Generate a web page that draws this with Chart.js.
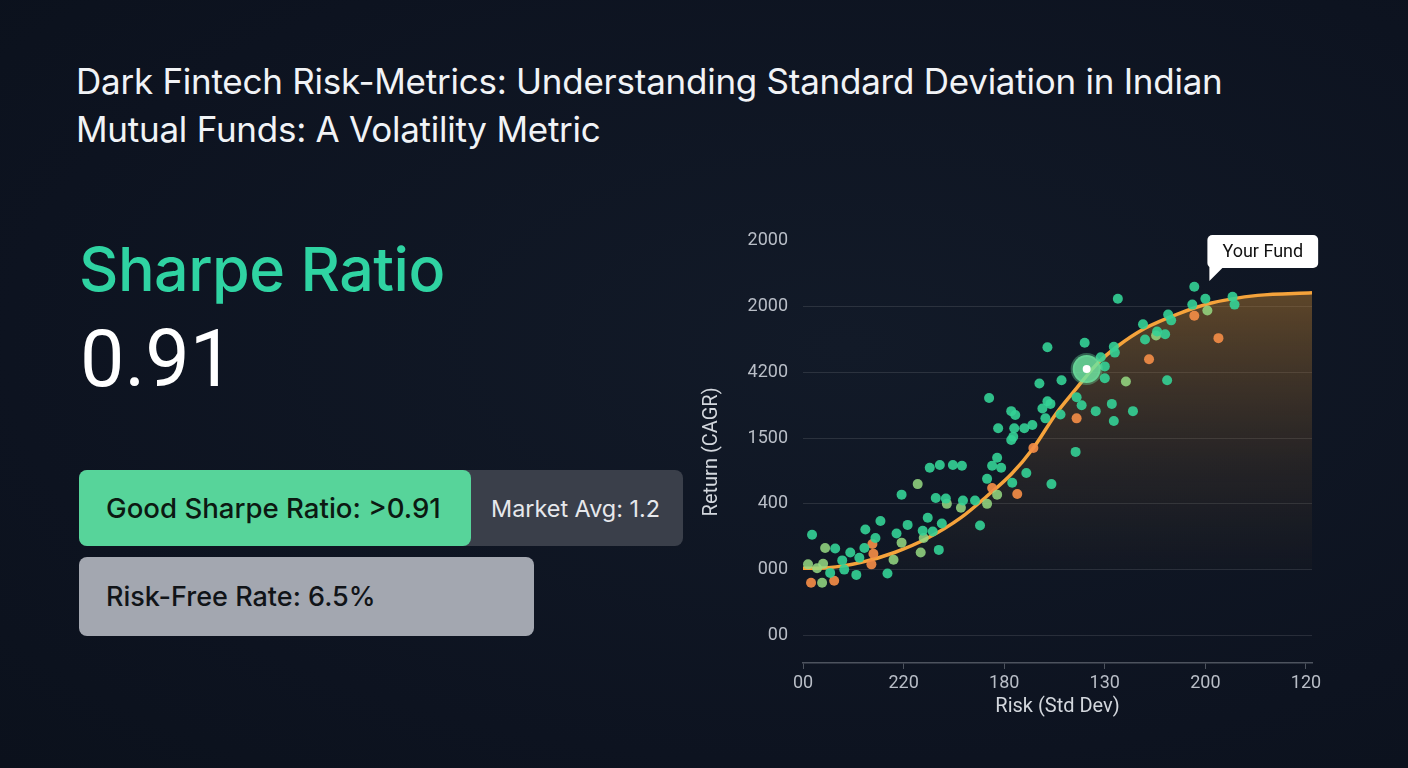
<!DOCTYPE html>
<html lang="en">
<head>
    <meta charset="UTF-8">
    <title>Sharpe Ratio - Risk vs Return</title>
    <style>
        html, body { margin: 0; padding: 0; }
        body {
            width: 1408px; height: 768px; overflow: hidden; position: relative;
            background: radial-gradient(ellipse at 60% 45%, #121a28 0%, #0d1320 70%, #0b111c 100%);
            font-family: Inter, Roboto, "Noto Sans", sans-serif;
        }
        .title { position: absolute; left: 76px; top: 57px; color: #f1f3f6; font-size: 35px; line-height: 48px; letter-spacing: -0.25px; }
        .metric-name { position: absolute; left: 79px; top: 239px; color: #2fd3a2; font-size: 61px; font-weight: 500; line-height: 1; letter-spacing: -0.5px; }
        .metric-value { position: absolute; left: 80px; top: 320px; color: #ffffff; font-family: Roboto, sans-serif; font-size: 79px; line-height: 1; }
        .bar { position: absolute; border-radius: 8px; display: flex; align-items: center; box-sizing: border-box; }
        #chart-box { position: absolute; left: 696px; top: 215px; width: 634px; height: 513px; }
    </style>
</head>
<body>
    <div class="title">Dark Fintech Risk-Metrics: Understanding Standard Deviation in Indian<br>Mutual Funds: A Volatility Metric</div>
    <div class="metric-name">Sharpe Ratio</div>
    <div class="metric-value">0.91</div>

    <div class="bar" style="left:79px; top:470px; width:604px; height:76px; background:#3a3f4a; padding-left:412px; color:#e6e8ec; font-size:23.4px;">Market Avg: 1.2</div>
    <div class="bar" style="left:79px; top:470px; width:392px; height:76px; background:#57d49a; padding-left:27px; color:#0c1912; font-size:27.6px; font-weight:500;">Good Sharpe Ratio: &gt;0.91</div>
    <div class="bar" style="left:79px; top:557px; width:455px; height:79px; background:#a3a7b0; padding-left:27px; color:#111418; font-size:27px; font-weight:500;">Risk-Free Rate: 6.5%</div>

    <div id="chart-box"><canvas id="chart"></canvas></div>
</body>
<script src="https://cdn.jsdelivr.net/npm/chart.js"></script>
<script>
    // tick labels as printed on the picture (bottom to top / left to right)
    const yTickLabels = ['00', '000', '400', '1500', '4200', '2000', '2000']
    const xTickLabels = ['00', '220', '180', '130', '200', '120']

    // funds: risk (x) and return (y) in tick units
    const tealRisk = [0.09, 0.32, 0.27, 0.39, 0.41, 0.47, 0.56, 0.53, 0.62, 0.61, 0.72, 0.77, 0.84, 0.93, 0.98, 1.04, 1.19, 1.24, 1.26, 1.29, 1.32, 1.36, 1.35, 1.38, 1.42, 1.49, 1.58, 1.59, 1.71, 1.76, 1.83, 1.88, 1.93, 1.97, 2.08, 2.22, 1.85, 2.07, 2.11, 1.94, 2.10, 2.20, 2.28, 2.09, 2.07, 2.38, 2.43, 2.46, 2.41, 2.56, 2.35, 2.57, 2.43, 2.72, 2.77, 2.71, 2.47, 2.80, 2.91, 3.07, 3.09, 3.28, 2.96, 3.00, 3.00, 3.09, 3.10, 3.62, 3.13, 3.38, 3.52, 3.60, 3.40, 3.63, 3.66, 3.89, 3.87, 4.00, 4.27, 4.29]
    const tealReturn = [1.53, 1.32, 0.95, 1.14, 1.00, 1.26, 1.18, 0.92, 1.61, 1.33, 1.48, 1.74, 0.94, 1.55, 2.14, 1.68, 1.59, 1.79, 2.55, 1.58, 2.09, 2.59, 1.30, 1.70, 2.08, 2.59, 2.58, 2.05, 2.05, 1.67, 2.38, 2.58, 2.70, 2.55, 2.32, 2.47, 3.61, 3.41, 3.35, 3.15, 3.15, 3.15, 3.20, 3.02, 2.97, 3.45, 3.56, 3.52, 3.30, 3.36, 3.83, 3.88, 4.38, 3.62, 3.50, 2.79, 2.30, 4.45, 3.41, 3.52, 3.26, 3.41, 4.23, 4.09, 3.91, 4.39, 4.30, 3.88, 5.12, 4.73, 4.62, 4.58, 4.50, 4.88, 4.79, 5.30, 5.03, 5.12, 5.15, 5.03]

    const limeRisk = [0.22, 0.05, 0.14, 0.20, 0.90, 0.98, 1.14, 1.17, 1.20, 1.43, 1.57, 1.83, 1.93, 0.19, 3.21, 3.51, 4.02]
    const limeReturn = [1.33, 1.08, 1.02, 1.09, 1.15, 1.41, 2.30, 1.26, 1.48, 2.00, 1.94, 2.00, 2.14, 0.80, 3.86, 4.56, 4.94]

    const orangeRisk = [0.08, 0.31, 0.69, 0.70, 0.68, 1.88, 2.13, 2.29, 2.72, 3.44, 3.89, 4.13]
    const orangeReturn = [0.80, 0.83, 1.39, 1.24, 1.08, 2.24, 2.15, 2.85, 3.30, 4.20, 4.86, 4.52]

    // fitted risk/return curve
    const curveRisk = [0, 0.25, 0.58, 0.91, 1.24, 1.57, 1.83, 2.07, 2.29, 2.51, 2.72, 2.93, 3.13, 3.40, 3.73, 4.05, 4.52, 5.06]
    const curveReturn = [1.02, 1.03, 1.11, 1.26, 1.48, 1.79, 2.12, 2.45, 2.85, 3.36, 3.76, 4.14, 4.40, 4.67, 4.89, 5.05, 5.17, 5.21]

    const yourFund = { x: 2.82, y: 4.05 }
    const calloutAnchor = { x: 4.04, y: 5.39 }
    const calloutText = 'Your Fund'

    const toPoints = (xs, ys) => xs.map((x, i) => ({ x: x, y: ys[i] }))

    const tickFont = { family: 'Roboto', size: 18 }

    const calloutPlugin = {
        id: 'callout',
        afterDatasetsDraw(chart) {
            const ctx = chart.ctx
            const tipX = chart.scales.x.getPixelForValue(calloutAnchor.x)
            const tipY = chart.scales.y.getPixelForValue(calloutAnchor.y)
            ctx.save()
            ctx.font = '18px Roboto'
            const w = ctx.measureText(calloutText).width + 30
            const h = 33
            const left = tipX - 2
            const top = tipY - 13 - h
            ctx.fillStyle = '#ffffff'
            ctx.beginPath()
            ctx.roundRect(left, top, w, h, 5)
            ctx.fill()
            ctx.beginPath()
            ctx.moveTo(tipX, top + h - 1)
            ctx.lineTo(tipX, tipY)
            ctx.lineTo(tipX + 14, top + h - 1)
            ctx.closePath()
            ctx.fill()
            ctx.fillStyle = '#111111'
            ctx.textBaseline = 'middle'
            ctx.fillText(calloutText, left + 15, top + h / 2 + 1)
            ctx.restore()
        }
    }

    const canvas = document.getElementById('chart')
    const chart = new Chart(canvas, {
        type: 'scatter',
        data: {
            datasets: [
                {
                    label: 'Your Fund',
                    data: [yourFund],
                    pointRadius: 4,
                    backgroundColor: '#ffffff',
                    borderWidth: 0,
                    order: 0
                },
                {
                    label: 'Your Fund halo',
                    data: [yourFund],
                    pointRadius: 14,
                    backgroundColor: 'rgba(110, 228, 160, 0.85)',
                    borderColor: 'rgba(110, 228, 160, 0.35)',
                    borderWidth: 4,
                    order: 1
                },
                {
                    label: 'Funds',
                    data: toPoints(tealRisk, tealReturn),
                    pointRadius: 5,
                    backgroundColor: 'rgba(52, 210, 150, 0.9)',
                    borderWidth: 0,
                    order: 2
                },
                {
                    label: 'Mid funds',
                    data: toPoints(limeRisk, limeReturn),
                    pointRadius: 5,
                    backgroundColor: 'rgba(150, 218, 130, 0.85)',
                    borderWidth: 0,
                    order: 3
                },
                {
                    label: 'Laggards',
                    data: toPoints(orangeRisk, orangeReturn),
                    pointRadius: 5,
                    backgroundColor: 'rgba(242, 140, 70, 0.92)',
                    borderWidth: 0,
                    order: 4
                },
                {
                    type: 'line',
                    label: 'Fit',
                    data: toPoints(curveRisk, curveReturn),
                    borderColor: '#f5a33b',
                    borderWidth: 3.5,
                    pointRadius: 0,
                    tension: 0.4,
                    cubicInterpolationMode: 'monotone',
                    fill: { target: { value: 1 } },
                    backgroundColor: (context) => {
                        const area = context.chart.chartArea
                        if (!area) return 'rgba(0,0,0,0)'
                        const g = context.chart.ctx.createLinearGradient(0, area.top + 50, 0, area.bottom - 90)
                        g.addColorStop(0, 'rgba(205, 138, 50, 0.42)')
                        g.addColorStop(0.6, 'rgba(160, 110, 50, 0.16)')
                        g.addColorStop(1, 'rgba(120, 90, 50, 0.03)')
                        return g
                    },
                    order: 5
                }
            ]
        },
        options: {
            responsive: true,
            maintainAspectRatio: false,
            animation: false,
            layout: { padding: { top: 10, right: 15, left: 0, bottom: 0 } },
            plugins: {
                legend: { display: false },
                tooltip: { enabled: false }
            },
            scales: {
                x: {
                    type: 'linear',
                    min: 0,
                    max: 5.06,
                    afterBuildTicks: (scale) => { scale.ticks = xTickLabels.map((_, i) => ({ value: i })) },
                    afterFit: (scale) => { scale.height = 65 },
                    ticks: {
                        color: '#b9bec7',
                        font: tickFont,
                        padding: 4,
                        maxRotation: 0,
                        callback: (v) => xTickLabels[v]
                    },
                    grid: { drawOnChartArea: false, drawTicks: true, tickLength: 6, tickColor: '#4d535e' },
                    border: { display: true, color: '#4d535e', width: 1.5 },
                    title: { display: true, text: 'Risk (Std Dev)', color: '#d3d7dd', font: { family: 'Roboto', size: 20 }, padding: { top: 0, bottom: 9 } }
                },
                y: {
                    type: 'linear',
                    min: -0.42,
                    max: 6,
                    afterBuildTicks: (scale) => { scale.ticks = yTickLabels.map((_, i) => ({ value: i })) },
                    afterFit: (scale) => { scale.width = 107 },
                    ticks: {
                        color: '#b9bec7',
                        font: tickFont,
                        padding: 15,
                        callback: (v) => yTickLabels[v]
                    },
                    grid: {
                        drawTicks: false,
                        color: (c) => c.tick && c.tick.value === 6 ? 'rgba(0,0,0,0)' : 'rgba(255,255,255,0.11)'
                    },
                    border: { display: false },
                    title: { display: true, text: 'Return (CAGR)', color: '#d3d7dd', font: { family: 'Roboto', size: 20 }, padding: { bottom: 4 } }
                }
            }
        },
        plugins: [calloutPlugin]
    })
</script>
</html>
